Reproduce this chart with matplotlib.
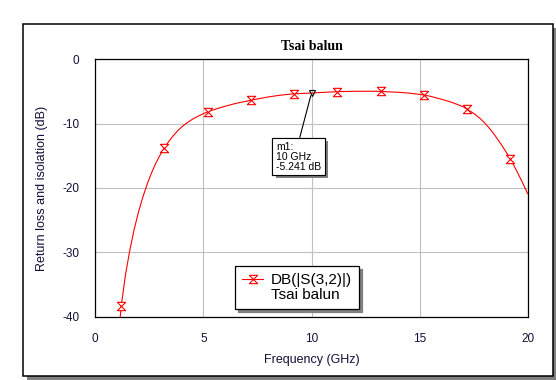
import matplotlib
matplotlib.use("Agg")
import matplotlib.pyplot as plt
from matplotlib.lines import Line2D
from matplotlib.patches import Rectangle
import matplotlib.patheffects as pe

plt.rcParams['font.family'] = 'Liberation Sans'
plt.rcParams['axes.unicode_minus'] = False

# data (frequency in GHz, |S32| in dB)
freq = [1.1, 1.2, 1.4, 1.6, 1.8, 2.0, 2.2, 2.4, 2.6, 2.8, 3.0, 3.2, 3.4, 3.6, 3.8,
        4.0, 4.25, 4.5, 4.75, 5.0, 5.2, 5.6, 6.0, 6.5, 7.0, 7.2, 8.0, 8.5, 9.0, 9.2,
        10.0, 11.0, 11.2, 12.0, 13.0, 13.2, 14.0, 14.5, 15.0, 15.2, 15.5, 16.0, 16.5,
        17.0, 17.2, 17.5, 17.8, 18.0, 18.25, 18.5, 18.75, 19.0, 19.2, 19.5, 19.75, 20.0]
s32_db = [-42.0, -38.3, -33.4, -29.6, -26.4, -23.7, -21.4, -19.4, -17.65, -16.15, -14.85,
          -13.75, -12.75, -11.9, -11.15, -10.5, -9.85, -9.3, -8.85, -8.45, -8.15, -7.7,
          -7.3, -6.85, -6.5, -6.35, -5.85, -5.6, -5.42, -5.36, -5.241, -5.06, -5.03,
          -4.97, -4.97, -5.0, -5.12, -5.25, -5.45, -5.55, -5.75, -6.2, -6.7, -7.35,
          -7.75, -8.4, -9.2, -9.85, -10.8, -11.9, -13.1, -14.4, -15.5, -17.4, -19.1, -20.9]
marker_freq = [1.2, 3.2, 5.2, 7.2, 9.2, 11.2, 13.2, 15.2, 17.2, 19.2]
marker_db = [-38.3, -13.75, -8.15, -6.35, -5.36, -5.03, -5.0, -5.55, -7.75, -15.5]
m1_freq = 10
m1_db = -5.241

xticks = [0, 5, 10, 15, 20]
yticks = [0, -10, -20, -30, -40]

hourglass = [(-1, 1), (1, 1), (-1, -1), (1, -1), (-1, 1)]
tick_color = '#10103a'

fig = plt.figure(figsize=(5.56, 3.80), dpi=100)

# outer frame with drop shadow
W, H = 556, 380
fig.patches.append(Rectangle((26.5 / W, 0), (556 - 26.5) / W, (380 - 27.5) / H,
                             transform=fig.transFigure, facecolor='#808080',
                             edgecolor='none', zorder=0))
fig.patches.append(Rectangle((23 / W, 1 - 376 / H), (552.5 - 23) / W, (376 - 24) / H,
                             transform=fig.transFigure, facecolor='white',
                             edgecolor='black', lw=1.1, zorder=1))

ax = fig.add_axes([95.3 / W, 1 - 316.7 / H, (527.7 - 95.3) / W, (316.7 - 59.3) / H])
ax.set_zorder(2)

ax.plot(freq, s32_db, color='red', lw=0.8, zorder=3)
ax.plot(marker_freq, marker_db, linestyle='none', marker=hourglass, markersize=6,
        markerfacecolor='white', markeredgecolor='red', markeredgewidth=0.8, zorder=4)
ax.plot([m1_freq], [m1_db], linestyle='none', marker='v', markersize=5,
        markerfacecolor='none', markeredgecolor='black', markeredgewidth=0.8, zorder=5)

ann = ax.annotate('m1:\n10 GHz\n-5.241 dB', xy=(m1_freq, m1_db),
                  xytext=(-12.8, -63.5), textcoords='offset pixels',
                  ha='center', va='center', multialignment='left',
                  fontsize=7.5, linespacing=1.0, zorder=6,
                  bbox=dict(boxstyle='square,pad=0.35', facecolor='white',
                            edgecolor='black', lw=0.8),
                  arrowprops=dict(arrowstyle='-', color='black', lw=0.8,
                                  relpos=(0.5, 1.0), shrinkA=0, shrinkB=2))
ann.get_bbox_patch().set_path_effects([
    pe.withSimplePatchShadow(offset=(2.2, -2.2), shadow_rgbFace='#808080', alpha=1),
    pe.Normal()])

ax.set_xlim(0, 20)
ax.set_ylim(-40, 0)
ax.set_xticks(xticks)
ax.set_yticks(yticks)
ax.tick_params(length=0, labelsize=8.5, labelcolor=tick_color)
ax.tick_params(axis='y', pad=11.5)
ax.tick_params(axis='x', pad=12)
ax.grid(True, color='#c0c0c0', lw=0.8)
ax.set_axisbelow(True)
for sp in ax.spines.values():
    sp.set_linewidth(0.9)
    sp.set_color('black')

ax.set_title('Tsai balun', fontfamily='Liberation Serif', fontweight='bold',
             fontsize=10, pad=6.5)
ax.set_xlabel('Frequency (GHz)', fontsize=9, color=tick_color, labelpad=6)
ax.set_ylabel('Return loss and isolation (dB)', fontsize=9, color=tick_color, labelpad=10)

handles = [Line2D([], [], color='red', lw=0.8, marker=hourglass, markersize=6,
                  markerfacecolor='white', markeredgecolor='red', markeredgewidth=0.8),
           Line2D([], [], linestyle='none')]
leg = ax.legend(handles, ['DB(|S(3,2)|)', 'Tsai balun'], loc='upper left',
                bbox_to_anchor=(235 / W, 1 - 266 / H), bbox_transform=fig.transFigure,
                borderaxespad=0, fontsize=11, frameon=True, fancybox=False,
                edgecolor='black', framealpha=1, handlelength=1.4, handletextpad=0.5,
                borderpad=0.45, labelspacing=0.1,
                shadow={'color': '#808080', 'alpha': 1})
leg.get_frame().set_linewidth(0.9)
leg.set_zorder(7)

fig.savefig('out.png', dpi=100)
